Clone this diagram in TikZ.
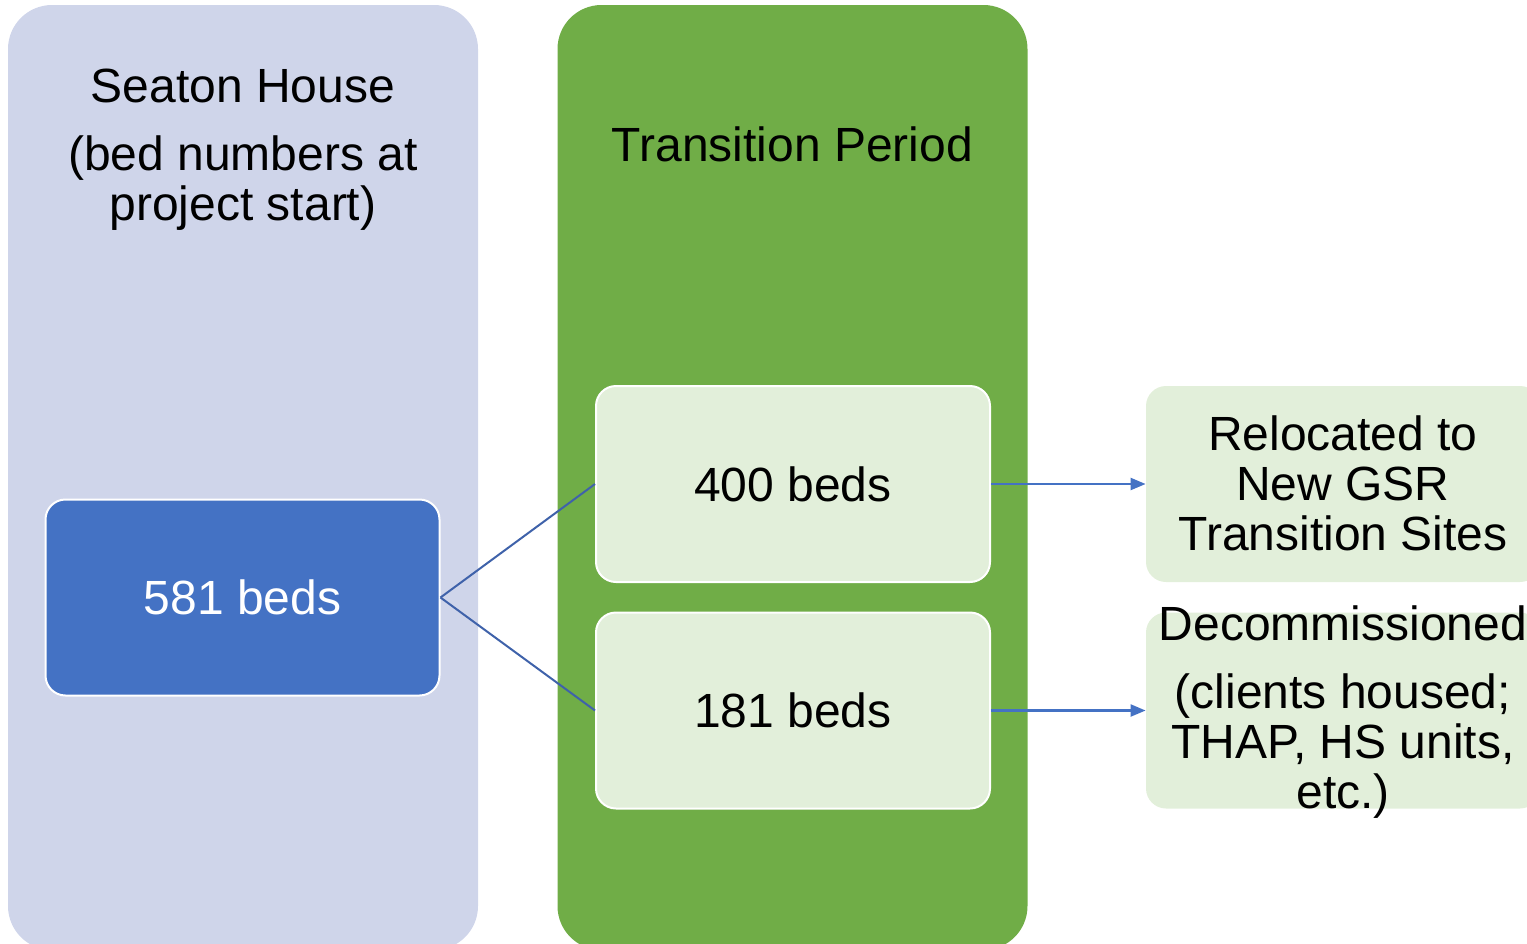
\documentclass[tikz,border=0pt]{standalone}
\usepackage{fontspec}
\setmainfont{Liberation Sans}
\usetikzlibrary{arrows.meta, positioning}
\definecolor{panelblue}{HTML}{CFD5EA}
\definecolor{panelgreen}{HTML}{70AD47}
\definecolor{boxgreen}{HTML}{E2EFDA}
\definecolor{bedblue}{HTML}{4472C4}
\definecolor{linkblue}{HTML}{3F62AA}

\begin{document}
\begin{tikzpicture}[
  x=0.5pt, y=-0.5pt,
  panel/.style={rectangle, rounded corners=22pt, minimum width=235pt, minimum height=472.5pt, inner sep=0pt},
  bedbox/.style={rectangle, draw=white, line width=1pt, rounded corners=10pt, minimum width=197pt, minimum height=98pt, align=center, font=\fontsize{24}{25}\selectfont},
  outbox/.style={rectangle, fill=boxgreen, rounded corners=10pt, minimum width=197pt, minimum height=98pt, inner sep=0pt},
  label/.style={align=center, inner sep=0pt, font=\fontsize{24}{25}\selectfont},
  link/.style={draw=linkblue, line width=1pt},
  arrow/.style={-{Triangle[length=7.5pt, width=6pt]}, draw=bedblue, line width=1.1pt}
  ]

\clip (0,0) rectangle (1527,943);

% panels
\node[panel, fill=panelblue] (seaton) at (243,477.5) {};
\node[panel, fill=panelgreen] (transition) at (792.5,477.5) {};

\node[label] (seatontitle) at (243,150) {Seaton House\\[9pt] (bed numbers at\\ project start)};
\node[label] (transtitle) at (792.5,144) {Transition Period};

% bed counts
\node[bedbox, fill=bedblue, text=white] (beds581) at (242.5,597.5) {581 beds};
\node[bedbox, fill=boxgreen] (beds400) at (793,484) {400 beds};
\node[bedbox, fill=boxgreen] (beds181) at (793,710.5) {181 beds};

% outcomes
\node[outbox] (relocated) at (1343,484) {};
\node[label] at (1343,483) {Relocated to\\ New GSR\\ Transition Sites};
\node[outbox] (decom) at (1343,710.5) {};
\node[label] at (1343,712) {Decommissioned\\[9pt] (clients housed;\\ THAP, HS units,\\ etc.)};

\draw[link] (beds581.east) -- (beds400.west);
\draw[link] (beds581.east) -- (beds181.west);
\draw[arrow] (beds400.east) -- (relocated.west);
\draw[arrow] (beds181.east) -- (decom.west);

\end{tikzpicture}
\end{document}
